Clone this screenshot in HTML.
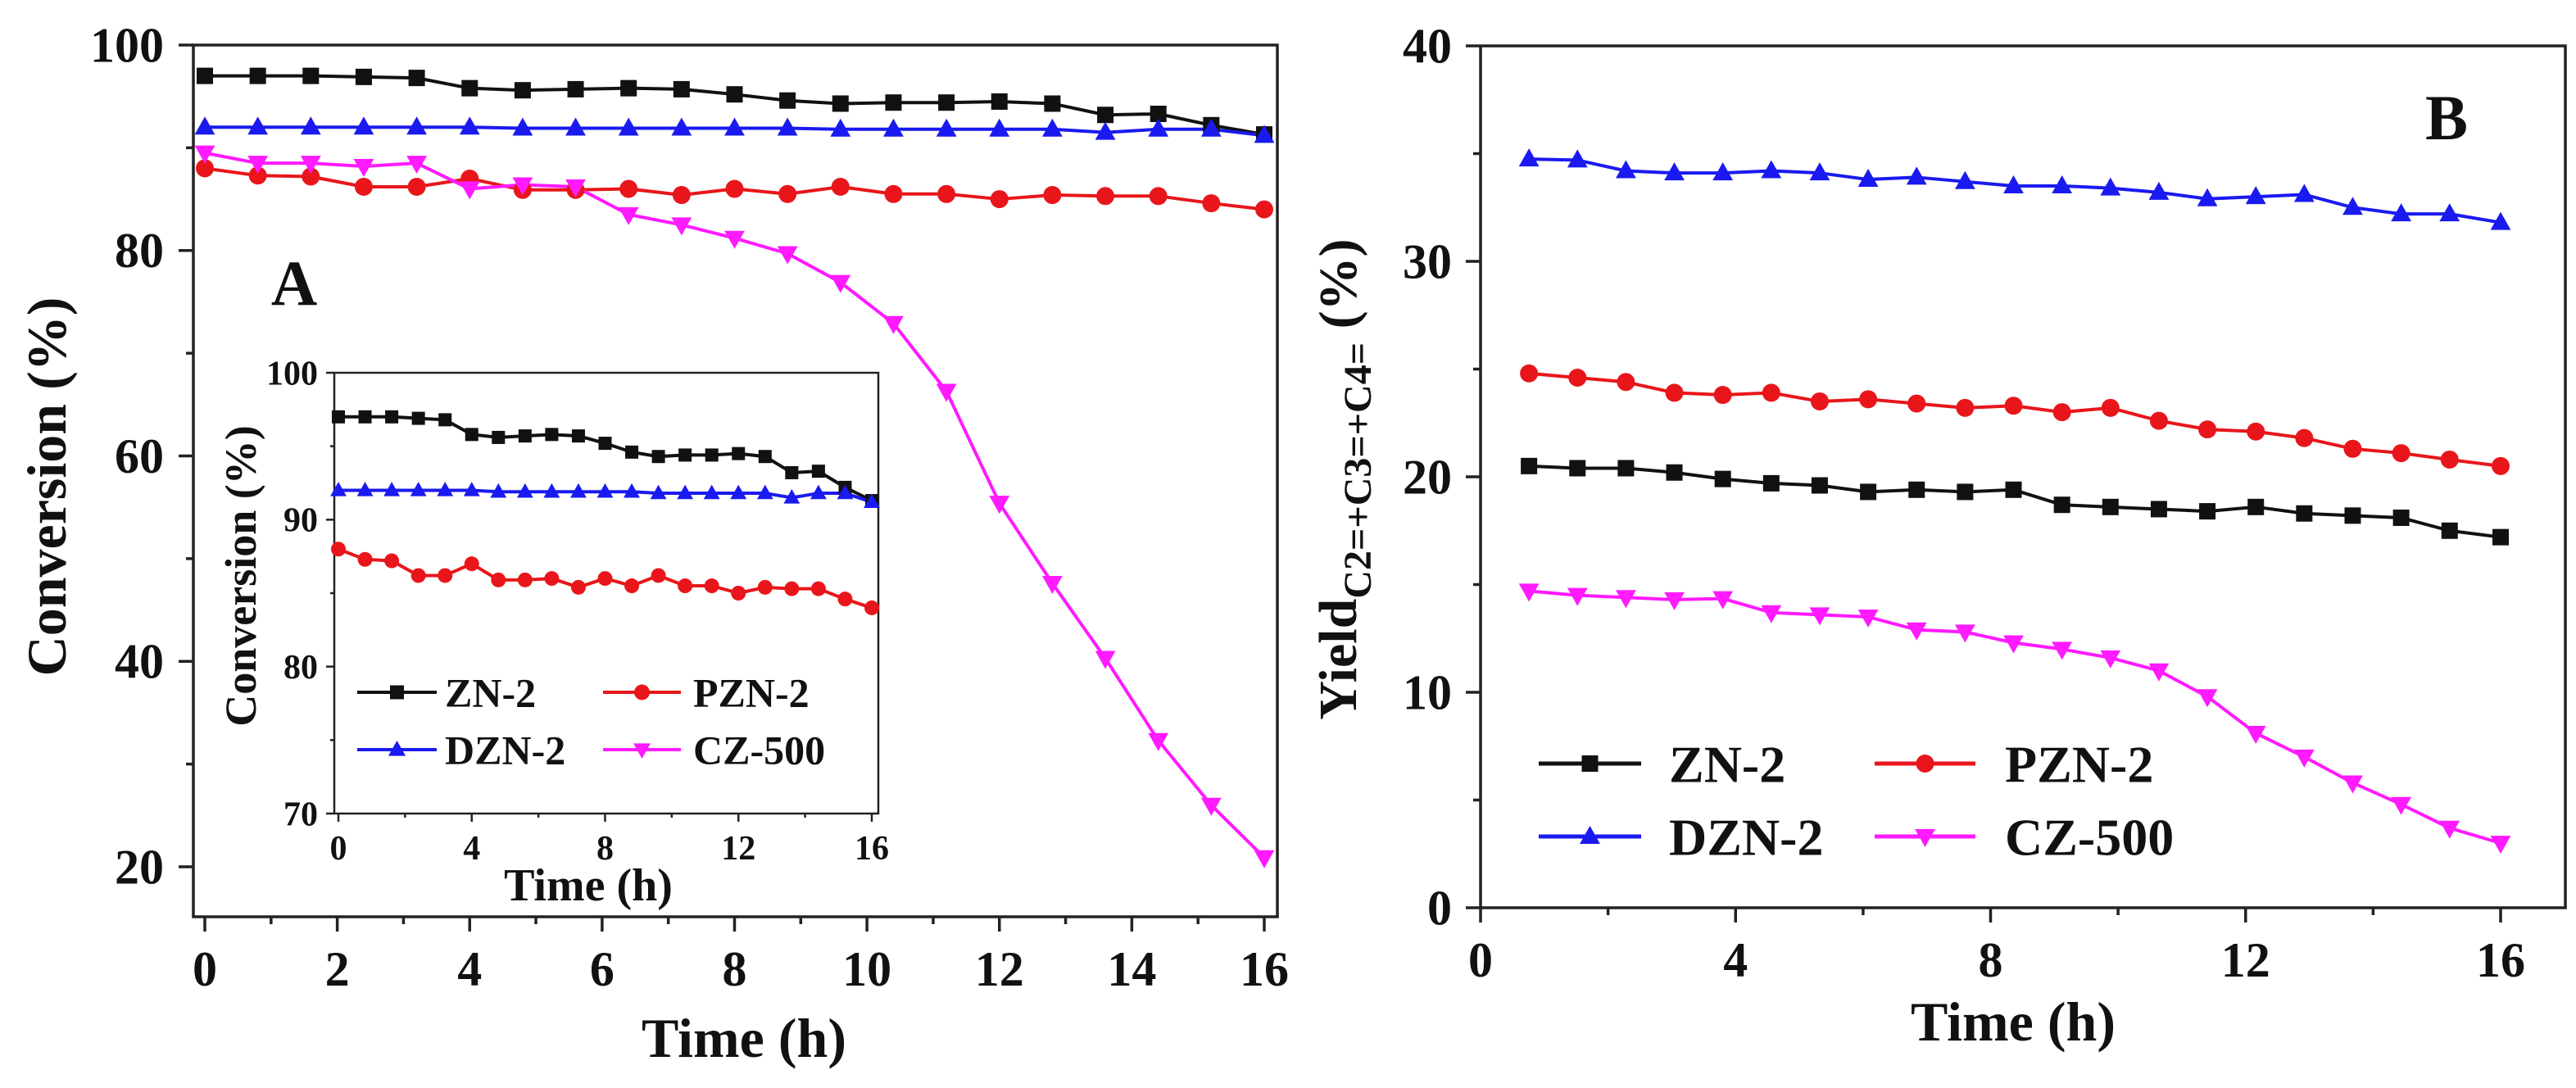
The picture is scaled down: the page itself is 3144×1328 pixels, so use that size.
<!DOCTYPE html>
<html><head><meta charset="utf-8"><style>
html,body{margin:0;padding:0;background:#fff;overflow:hidden}
svg{display:block}
text{font-family:"Liberation Serif",serif;font-weight:bold;fill:#111}
</style></head><body>
<svg id="chart" width="3144" height="1328" viewBox="0 0 3144 1328" xmlns="http://www.w3.org/2000/svg"></svg>
<script>
const seriesNames = ["ZN-2","PZN-2","DZN-2","CZ-500"];
const timeA = [0,0.8,1.6,2.4,3.2,4,4.8,5.6,6.4,7.2,8,8.8,9.6,10.4,11.2,12,12.8,13.6,14.4,15.2,16];
const znA = [97,97,97,96.9,96.8,95.8,95.6,95.7,95.8,95.7,95.2,94.6,94.3,94.4,94.4,94.5,94.3,93.2,93.3,92.2,91.3];
const pznA = [88,87.3,87.2,86.2,86.2,87.0,85.9,85.9,86.0,85.4,86.0,85.5,86.2,85.5,85.5,85.0,85.4,85.3,85.3,84.6,84.0];
const dznA = [92,92,92,92,92,92,91.9,91.9,91.9,91.9,91.9,91.9,91.8,91.8,91.8,91.8,91.8,91.5,91.8,91.8,91.2];
const czA = [89.5,88.5,88.5,88.2,88.5,86.0,86.4,86.2,83.5,82.5,81.2,79.7,76.9,72.9,66.3,55.4,47.6,40.3,32.3,26.0,20.9];
const timeB = [0.76,1.52,2.28,3.04,3.8,4.56,5.32,6.08,6.84,7.6,8.36,9.12,9.88,10.64,11.4,12.16,12.92,13.68,14.44,15.2,16];
const znB = [20.5,20.4,20.4,20.2,19.9,19.7,19.6,19.3,19.4,19.3,19.4,18.7,18.6,18.5,18.4,18.6,18.3,18.2,18.1,17.5,17.2];
const pznB = [24.8,24.6,24.4,23.9,23.8,23.9,23.5,23.6,23.4,23.2,23.3,23.0,23.2,22.6,22.2,22.1,21.8,21.3,21.1,20.8,20.5];
const dznB = [34.75,34.7,34.2,34.1,34.1,34.2,34.1,33.8,33.9,33.7,33.5,33.5,33.4,33.2,32.9,33.0,33.1,32.5,32.2,32.2,31.8];
const czB = [14.7,14.5,14.4,14.3,14.35,13.7,13.6,13.5,12.9,12.8,12.3,12.0,11.6,11.0,9.8,8.1,7.0,5.8,4.8,3.7,3.0];
const ticksAy = [20,40,60,80,100];
const ticksAx = [0,2,4,6,8,10,12,14,16];
const ticksInsetY = [70,80,90,100];
const ticksInsetX = [0,4,8,12,16];
const ticksBy = [0,10,20,30,40];
const ticksBx = [0,4,8,12,16];

const colors = ["#111111","#e8161b","#1a1af0","#ff1aff"];
const markers = ["square","circle","up","down"];
const NS = "http://www.w3.org/2000/svg";
const svg = document.getElementById("chart");
const defs = document.createElementNS(NS,"defs"); svg.appendChild(defs);
let clipN = 0;
function el(tag, attrs, parent){
  const e = document.createElementNS(NS, tag);
  for (const k in attrs) e.setAttribute(k, attrs[k]);
  (parent||svg).appendChild(e); return e;
}
function marker(g, type, x, y, s, c){
  let m;
  if (type==="square") m = el("rect",{x:x-s/2,y:y-s/2,width:s,height:s,fill:c},g);
  else if (type==="circle") m = el("circle",{cx:x,cy:y,r:s/2+1,fill:c},g);
  else if (type==="up") m = el("polygon",{points:`${x},${y-s*0.65} ${x-s*0.62},${y+s*0.45} ${x+s*0.62},${y+s*0.45}`,fill:c},g);
  else m = el("polygon",{points:`${x},${y+s*0.65} ${x-s*0.62},${y-s*0.45} ${x+s*0.62},${y-s*0.45}`,fill:c},g);
  
  
  return m;
}
function panel(c){
  const g = el("g",{});
  
  
  const sx = v => c.x0 + (v - c.xmin)/(c.xmax - c.xmin)*(c.x1 - c.x0);
  const sy = v => c.y0 + (v - c.ymin)/(c.ymax - c.ymin)*(c.y1 - c.y0);
  const frame = el("rect",{x:c.L,y:c.T,width:c.R-c.L,height:c.B-c.T,fill:"#fff",stroke:"#222","stroke-width":c.sw},g);
  
  
  c.yt.forEach((v,i)=>{
    const y = sy(v);
    el("line",{x1:c.L-c.tl,x2:c.L,y1:y,y2:y,stroke:"#222","stroke-width":c.sw},g);
    if (i < c.yt.length-1){ const ym = sy((v + c.yt[i+1])/2);
      el("line",{x1:c.L-c.tl/2,x2:c.L,y1:ym,y2:ym,stroke:"#222","stroke-width":c.sw},g); }
    const t = el("text",{x:c.L-c.tl-c.gap,y:y+c.fs*0.34,"text-anchor":"end","font-size":c.fs},g);
    t.textContent = v;
    
    
  });
  c.xt.forEach((v,i)=>{
    const x = sx(v);
    el("line",{x1:x,x2:x,y1:c.B,y2:c.B+c.tl,stroke:"#222","stroke-width":c.sw},g);
    if (i < c.xt.length-1){ const xm = sx((v + c.xt[i+1])/2);
      el("line",{x1:xm,x2:xm,y1:c.B,y2:c.B+c.tl/2,stroke:"#222","stroke-width":c.sw},g); }
    const t = el("text",{x:x,y:c.B+c.tl+c.fs*1.1,"text-anchor":"middle","font-size":c.fs},g);
    t.textContent = v;
    
    
  });
  const cid = "clip" + (clipN++);
  const cp = el("clipPath",{id:cid},defs);
  el("rect",{x:c.L-14,y:c.T-14,width:c.R-c.L+28,height:c.B-c.T+28},cp);
  const dg = el("g",{"clip-path":`url(#${cid})`},g);
  c.series.forEach(([k,s])=>{
    const pts = s.map((v,i)=>`${sx(c.time[i])},${sy(v)}`).join(" ");
    const l = el("polyline",{points:pts,fill:"none",stroke:colors[k],"stroke-width":c.lw,"stroke-linejoin":"round"},dg);
    
    
  });
  c.series.forEach(([k,s])=>{
    s.forEach((v,i)=> marker(dg, markers[k], sx(c.time[i]), sy(v), c.ms, colors[k]));
  });
  return g;
}
function legend(items){
  items.forEach(it=>{
    const g = el("g",{});
    
    
    el("line",{x1:it.x1,x2:it.x2,y1:it.y,y2:it.y,stroke:colors[it.k],"stroke-width":it.lw},g);
    marker(g, markers[it.k], (it.x1+it.x2)/2, it.y, it.ms, colors[it.k]);
    const t = el("text",{x:it.tx,y:it.y+it.fs*0.35,"font-size":it.fs},g);
    t.textContent = seriesNames[it.k];
  });
}
function label(txt, x, y, fs, rot, name){
  const t = el("text",{x:x,y:y,"text-anchor":"middle","font-size":fs,transform:rot?`rotate(-90 ${x} ${y})`:""});
  t.textContent = txt;
  
  
  return t;
}

// Panel A
panel({name:"panel-a",L:236,R:1559,T:55,B:1119,x0:250,x1:1543,xmin:0,xmax:16,y0:1058,y1:55,ymin:20,ymax:100,
  yt:ticksAy,xt:ticksAx,fs:60,tl:18,gap:18,sw:3.5,lw:4,ms:20,time:timeA,series:[[0,znA],[1,pznA],[2,dznA],[3,czA]]});
label("Conversion (%)",80,594,68,true,"y-axis-title-a");
label("Time (h)",908,1290,68,false,"x-axis-title-a");
label("A",359,372,78,false,"panel-label-a");
// Inset
panel({name:"inset",L:408,R:1072,T:455,B:993,x0:413,x1:1064,xmin:0,xmax:16,y0:993,y1:455,ymin:70,ymax:100,
  yt:ticksInsetY,xt:ticksInsetX,fs:42,tl:10,gap:10,sw:2.5,lw:4,ms:16,time:timeA,series:[[0,znA],[1,pznA],[2,dznA]]});
label("Conversion (%)",312,703,54,true,"inset-y-axis-title");
label("Time (h)",718,1099,56,false,"inset-x-axis-title");
legend([
  {k:0,x1:436,x2:533,y:845,tx:543,fs:50,lw:4,ms:17},
  {k:1,x1:736,x2:831,y:845,tx:846,fs:50,lw:4,ms:17},
  {k:2,x1:436,x2:533,y:915,tx:543,fs:50,lw:4,ms:17},
  {k:3,x1:736,x2:831,y:915,tx:846,fs:50,lw:4,ms:17}
]);

// Panel B
panel({name:"panel-b",L:1807,R:3131,T:56,B:1108,x0:1807,x1:3052,xmin:0,xmax:16,y0:1108,y1:56,ymin:0,ymax:40,
  yt:ticksBy,xt:ticksBx,fs:60,tl:18,gap:17,sw:3.5,lw:4,ms:20,time:timeB,series:[[0,znB],[1,pznB],[2,dznB],[3,czB]]});
(function(){
  const x=1655,y=585;
  const t = el("text",{x:x,y:y,"text-anchor":"middle","font-size":66,transform:`rotate(-90 ${x} ${y})`});
  
  
  const a = el("tspan",{},t); a.textContent = "Yield";
  const b = el("tspan",{dy:18,"font-size":48},t); b.textContent = "C2=+C3=+C4=";
  const c = el("tspan",{dy:-18},t); c.textContent = " (%)";
})();
label("Time (h)",2457,1270,68,false,"x-axis-title-b");
label("B",2986,170,78,false,"panel-label-b");
legend([
  {k:0,x1:1878,x2:2003,y:932,tx:2037,fs:64,lw:5,ms:20},
  {k:1,x1:2288,x2:2411,y:932,tx:2447,fs:64,lw:5,ms:20},
  {k:2,x1:1878,x2:2003,y:1021,tx:2037,fs:64,lw:5,ms:20},
  {k:3,x1:2288,x2:2411,y:1021,tx:2447,fs:64,lw:5,ms:20}
]);
</script>
</body></html>
